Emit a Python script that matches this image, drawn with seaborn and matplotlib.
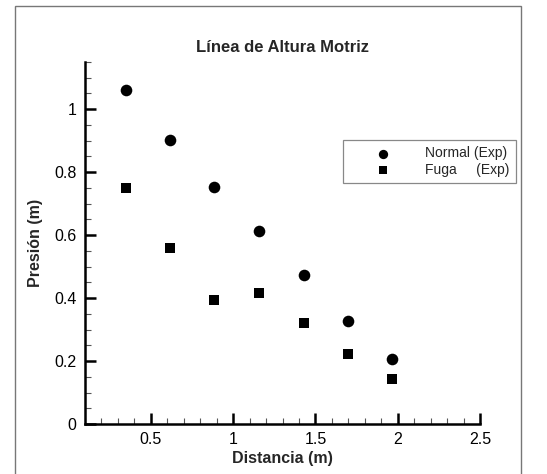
import matplotlib
matplotlib.use("Agg")
import matplotlib.pyplot as plt
import seaborn as sns
import pandas as pd
from matplotlib.ticker import MultipleLocator, FuncFormatter
from matplotlib.patches import Rectangle

distancia = [0.35, 0.615, 0.885, 1.158, 1.43, 1.70, 1.967]
normal_exp = [1.061, 0.903, 0.753, 0.613, 0.472, 0.328, 0.205]
fuga_exp = [0.749, 0.559, 0.393, 0.416, 0.322, 0.221, 0.142]
labels = ["Normal (Exp)", "Fuga     (Exp)"]

sns.set_style("ticks")
plt.rcParams["font.family"] = ["Liberation Sans", "DejaVu Sans"]

fig = plt.figure(figsize=(5.47, 4.74), dpi=100)
ax = fig.add_axes([85 / 547, 1 - 424 / 474, (480 - 85) / 547, (424 - 62) / 474])

df_n = pd.DataFrame({"x": distancia, "y": normal_exp})
df_f = pd.DataFrame({"x": distancia, "y": fuga_exp})
sns.scatterplot(data=df_n, x="x", y="y", ax=ax, marker="o", s=70, color="black",
                edgecolor="black", linewidth=0, label=labels[0], zorder=3)
sns.scatterplot(data=df_f, x="x", y="y", ax=ax, marker="s", s=55, color="black",
                edgecolor="black", linewidth=0, label=labels[1], zorder=3)

ax.set_xlim(0.1, 2.5)
ax.set_ylim(0, 1.15)
ax.xaxis.set_major_locator(MultipleLocator(0.5))
ax.xaxis.set_minor_locator(MultipleLocator(0.1))
ax.yaxis.set_major_locator(MultipleLocator(0.2))
ax.yaxis.set_minor_locator(MultipleLocator(0.05))

fmt = FuncFormatter(lambda v, p: ("%g" % round(v, 3)))
ax.xaxis.set_major_formatter(fmt)
ax.yaxis.set_major_formatter(fmt)

for s in ["top", "right"]:
    ax.spines[s].set_visible(False)
for s in ["left", "bottom"]:
    ax.spines[s].set_linewidth(1.8)
    ax.spines[s].set_color("black")

ax.tick_params(which="major", direction="in", length=8, width=1.8, labelsize=11.5,
               colors="black", pad=6)
ax.tick_params(which="minor", direction="in", length=4, width=0.8, colors="#555555")

ax.set_xlabel("Distancia (m)", fontsize=11.5, fontweight="bold", labelpad=3)
ax.set_ylabel("Presión (m)", fontsize=11.5, fontweight="bold", labelpad=8)
ax.set_title("Línea de Altura Motriz", fontsize=12, fontweight="bold", pad=7)

leg = ax.legend(loc="upper left", bbox_to_anchor=(343 / 547, 1 - 140 / 474),
                bbox_transform=fig.transFigure, frameon=True, fancybox=False,
                fontsize=10, handletextpad=0.65, handlelength=4.8, borderpad=0.45,
                labelspacing=0.2, borderaxespad=0, markerscale=0.8)
leg.get_frame().set_edgecolor("#888888")
leg.get_frame().set_linewidth(0.9)
leg.get_frame().set_alpha(1)

fig.patches.append(Rectangle((15 / 547, -0.05), (521 - 15) / 547, 1.05 - 6 / 474,
                             transform=fig.transFigure, fill=False,
                             edgecolor="#777777", linewidth=1.0))

fig.savefig("out.png", dpi=100, facecolor="white")
